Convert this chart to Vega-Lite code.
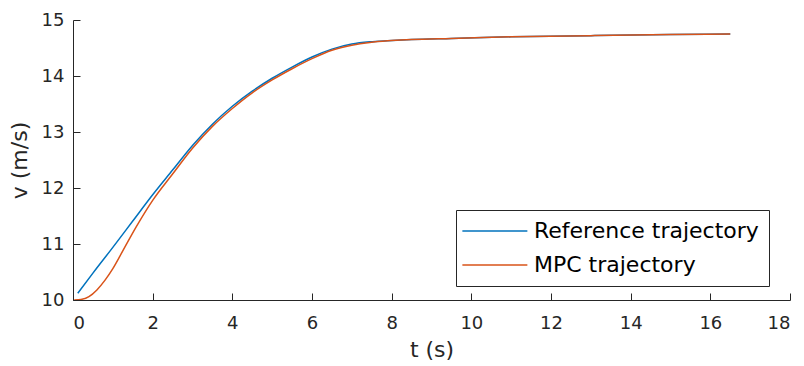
{
  "$schema": "https://vega.github.io/schema/vega-lite/v6.json",
  "width": 717,
  "height": 280,
  "autosize": {"type": "none"},
  "padding": {"left": 73, "top": 20, "right": 14, "bottom": 66},
  "background": "white",
  "config": {
    "font": "DejaVu Sans",
    "view": {"stroke": null},
    "axis": {
      "grid": false,
      "domainColor": "#262626",
      "domainWidth": 1,
      "tickColor": "#262626",
      "tickWidth": 1,
      "tickSize": -7,
      "labelColor": "#262626",
      "labelFont": "DejaVu Sans",
      "labelFontSize": 18,
      "titleColor": "#262626",
      "titleFont": "DejaVu Sans",
      "titleFontSize": 22,
      "titleFontWeight": "normal"
    }
  },
  "data": {
    "values": [
      {"t": 0.12, "v": 10.12, "series": "Reference trajectory"},
      {"t": 0.5, "v": 10.48, "series": "Reference trajectory"},
      {"t": 1.0, "v": 10.94, "series": "Reference trajectory"},
      {"t": 1.5, "v": 11.41, "series": "Reference trajectory"},
      {"t": 2.0, "v": 11.88, "series": "Reference trajectory"},
      {"t": 2.5, "v": 12.32, "series": "Reference trajectory"},
      {"t": 3.0, "v": 12.76, "series": "Reference trajectory"},
      {"t": 3.5, "v": 13.14, "series": "Reference trajectory"},
      {"t": 4.0, "v": 13.46, "series": "Reference trajectory"},
      {"t": 4.5, "v": 13.73, "series": "Reference trajectory"},
      {"t": 5.0, "v": 13.96, "series": "Reference trajectory"},
      {"t": 5.5, "v": 14.16, "series": "Reference trajectory"},
      {"t": 6.0, "v": 14.34, "series": "Reference trajectory"},
      {"t": 6.5, "v": 14.48, "series": "Reference trajectory"},
      {"t": 7.0, "v": 14.57, "series": "Reference trajectory"},
      {"t": 7.45, "v": 14.61, "series": "Reference trajectory"},
      {"t": 7.9, "v": 14.63, "series": "Reference trajectory"},
      {"t": 8.5, "v": 14.65, "series": "Reference trajectory"},
      {"t": 9.5, "v": 14.67, "series": "Reference trajectory"},
      {"t": 11.0, "v": 14.7, "series": "Reference trajectory"},
      {"t": 13.0, "v": 14.72, "series": "Reference trajectory"},
      {"t": 15.0, "v": 14.74, "series": "Reference trajectory"},
      {"t": 16.5, "v": 14.75, "series": "Reference trajectory"},
      {"t": 0.03, "v": 10.0, "series": "MPC trajectory"},
      {"t": 0.2, "v": 10.01, "series": "MPC trajectory"},
      {"t": 0.4, "v": 10.06, "series": "MPC trajectory"},
      {"t": 0.6, "v": 10.18, "series": "MPC trajectory"},
      {"t": 0.8, "v": 10.35, "series": "MPC trajectory"},
      {"t": 1.0, "v": 10.56, "series": "MPC trajectory"},
      {"t": 1.26, "v": 10.89, "series": "MPC trajectory"},
      {"t": 1.59, "v": 11.31, "series": "MPC trajectory"},
      {"t": 2.0, "v": 11.78, "series": "MPC trajectory"},
      {"t": 2.5, "v": 12.25, "series": "MPC trajectory"},
      {"t": 3.0, "v": 12.71, "series": "MPC trajectory"},
      {"t": 3.5, "v": 13.1, "series": "MPC trajectory"},
      {"t": 4.0, "v": 13.42, "series": "MPC trajectory"},
      {"t": 4.5, "v": 13.7, "series": "MPC trajectory"},
      {"t": 5.0, "v": 13.93, "series": "MPC trajectory"},
      {"t": 5.5, "v": 14.13, "series": "MPC trajectory"},
      {"t": 6.0, "v": 14.31, "series": "MPC trajectory"},
      {"t": 6.5, "v": 14.46, "series": "MPC trajectory"},
      {"t": 7.0, "v": 14.55, "series": "MPC trajectory"},
      {"t": 7.45, "v": 14.6, "series": "MPC trajectory"},
      {"t": 7.9, "v": 14.63, "series": "MPC trajectory"},
      {"t": 8.5, "v": 14.65, "series": "MPC trajectory"},
      {"t": 9.5, "v": 14.67, "series": "MPC trajectory"},
      {"t": 11.0, "v": 14.7, "series": "MPC trajectory"},
      {"t": 13.0, "v": 14.72, "series": "MPC trajectory"},
      {"t": 15.0, "v": 14.74, "series": "MPC trajectory"},
      {"t": 16.5, "v": 14.75, "series": "MPC trajectory"}
    ]
  },
  "mark": {"type": "line", "strokeWidth": 1.5, "interpolate": "monotone", "clip": true},
  "encoding": {
    "x": {
      "field": "t",
      "type": "quantitative",
      "scale": {"domain": [0, 18], "nice": false},
      "axis": {"values": [0, 2, 4, 6, 8, 10, 12, 14, 16, 18], "title": "t (s)", "titlePadding": 7, "labelPadding": 21}
    },
    "y": {
      "field": "v",
      "type": "quantitative",
      "scale": {"domain": [10, 15], "nice": false, "zero": false},
      "axis": {"values": [10, 11, 12, 13, 14, 15], "title": "v (m/s)", "titlePadding": 10, "labelPadding": 16}
    },
    "color": {
      "field": "series",
      "type": "nominal",
      "scale": {"domain": ["Reference trajectory", "MPC trajectory"], "range": ["#0072BD", "#D95319"]},
      "legend": {
        "title": null,
        "orient": "none",
        "legendX": 383,
        "legendY": 190,
        "direction": "vertical",
        "fillColor": "white",
        "strokeColor": "#262626",
        "padding": 10,
        "symbolType": "M-1.8,0L6.2,0",
        "symbolSize": 264,
        "symbolStrokeWidth": 1.5,
        "symbolOpacity": 1,
        "labelFont": "DejaVu Sans",
        "labelFontSize": 22,
        "labelLimit": 0,
        "labelColor": "#000000",
        "labelOffset": 46,
        "rowPadding": 12
      }
    }
  }
}
